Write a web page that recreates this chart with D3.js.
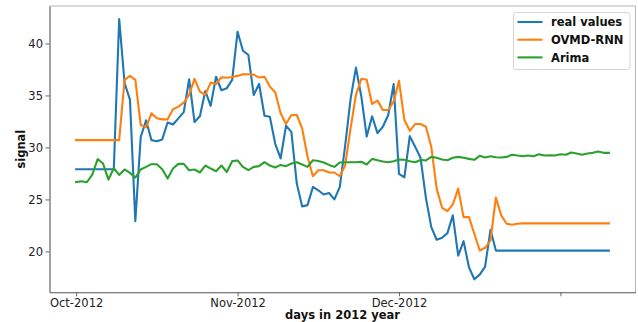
<!DOCTYPE html>
<html>
<head>
<meta charset="utf-8">
<script src="https://cdn.jsdelivr.net/npm/d3@7"></script>
<style>
  html, body { margin: 0; padding: 0; background: #fff; }
  svg { display: block; font-family: "DejaVu Sans", sans-serif; }
</style>
</head>
<body>
<svg id="chart" width="638" height="322"></svg>
<script>
// Daily signal: observed values and two model forecasts
const realValues = [
  27.9, 27.9, 27.9, 27.9, 27.9, 27.9, 27.9, 27.9, 42.35, 36.2,
  34.6, 22.9, 31.0, 32.6, 30.7, 30.6, 30.77, 32.4, 32.2, 32.8,
  33.4, 36.56, 32.44, 33.0, 35.43, 34.0, 36.8, 35.5, 35.7, 36.5,
  41.13, 39.3, 38.9, 35.05, 36.1, 33.05, 32.95, 30.35, 28.94, 32.08,
  31.5, 26.55, 24.33, 24.45, 26.2, 25.88, 25.47, 25.62, 25.0, 26.2,
  30.2, 34.65, 37.68, 34.9, 31.05, 33.0, 31.38, 31.99, 33.12, 36.09,
  27.45, 27.13, 31.09, 30.06, 29.0, 25.15, 22.34, 21.12, 21.31, 21.76,
  23.47, 19.6, 20.99, 18.48, 17.32, 17.77, 18.54, 22.08, 20.08, 20.08,
  20.08, 20.08, 20.08, 20.08, 20.08, 20.08, 20.08, 20.08, 20.08, 20.08,
  20.08, 20.08, 20.08, 20.08, 20.08, 20.08, 20.08, 20.08, 20.08, 20.08
];
const ovmdRnn = [
  30.7, 30.7, 30.7, 30.7, 30.7, 30.7, 30.7, 30.7, 30.7, 36.5,
  36.88, 36.5, 32.15, 31.93, 33.28, 32.8, 32.7, 32.7, 33.67, 33.92,
  34.31, 35.05, 36.6, 35.37, 35.05, 36.24, 36.1, 36.75, 36.7, 36.78,
  36.88, 37.04, 37.04, 37.0, 36.72, 36.8, 35.85, 35.3, 33.28, 32.25,
  33.12, 33.12, 31.83, 29.1, 27.23, 27.81, 27.81, 27.59, 27.59, 27.23,
  28.29, 31.83, 35.05, 36.6, 36.5, 34.18, 34.5, 33.6, 33.6, 34.4,
  36.4, 32.64, 31.6, 32.25, 32.25, 31.99, 30.06, 26.04, 24.2, 23.88,
  24.53, 26.04, 23.3, 23.3, 21.7, 20.09, 20.35, 21.05, 25.17, 23.47,
  22.66, 22.57, 22.66, 22.7, 22.7, 22.7, 22.7, 22.7, 22.7, 22.7,
  22.7, 22.7, 22.7, 22.7, 22.7, 22.7, 22.7, 22.7, 22.7, 22.7
];
const arima = [
  26.68, 26.75, 26.65, 27.39, 28.87, 28.45, 26.91, 28.0, 27.36, 27.88,
  27.55, 27.1, 27.88, 28.13, 28.39, 28.39, 27.91, 27.01, 27.97, 28.42,
  28.42, 27.81, 27.88, 27.59, 28.26, 27.97, 27.71, 28.26, 27.64, 28.68,
  28.75, 28.13, 27.81, 28.13, 28.2, 28.58, 28.26, 28.07, 28.32, 28.2,
  28.45, 28.58, 28.36, 28.13, 28.77, 28.7, 28.55, 28.32, 28.13, 28.55,
  28.58, 28.58, 28.58, 28.62, 28.36, 28.9, 28.77, 28.64, 28.58, 28.68,
  28.84, 28.81, 28.68, 28.58, 28.8, 28.75, 29.09, 29.0, 28.84, 28.77,
  29.0, 29.09, 29.0, 28.9, 28.81, 29.19, 29.03, 29.16, 29.06, 29.03,
  29.09, 29.29, 29.22, 29.16, 29.22, 29.16, 29.35, 29.22, 29.25, 29.22,
  29.35, 29.29, 29.51, 29.42, 29.29, 29.42, 29.48, 29.61, 29.48, 29.48
];

const seriesNames = ["real values", "OVMD-RNN", "Arima"];
const seriesColors = ["#1f77b4", "#ff7f0e", "#2ca02c"];

const xTickValues = [0, 30, 60, 90];
const xTickLabels = ["Oct-2012", "Nov-2012", "Dec-2012", ""];
const yTickValues = [20, 25, 30, 35, 40];

const series = [realValues, ovmdRnn, arima];

const svg = d3.select("#chart");
const plot = { left: 49.5, top: 6, right: 635.5, bottom: 292.3 };

// Axis limits with a 5% pad around the data
const n = realValues.length;
const xPad = (n - 1) * 0.05;
const allVals = series.flat();
const yMin = d3.min(allVals), yMax = d3.max(allVals);
const yPad = (yMax - yMin) * 0.05;

const x = d3.scaleLinear().domain([-xPad, n - 1 + xPad]).range([plot.left, plot.right]);
const y = d3.scaleLinear().domain([yMin - yPad, yMax + yPad]).range([plot.bottom, plot.top]);

const fontSize = 11.5;

// Lines
const line = d3.line().x((d, i) => x(i)).y(d => y(d));
const lines = svg.append("g");
series.forEach((vals, k) => {
  lines.append("path")
    .datum(vals)
    .attr("d", line)
    .attr("fill", "none")
    .attr("stroke", seriesColors[k])
    .attr("stroke-width", 2.1)
    .attr("stroke-linejoin", "round")
    .attr("stroke-linecap", "square");
});

// Frame
svg.append("line").attr("x1", plot.left).attr("x2", plot.right).attr("y1", plot.top).attr("y2", plot.top)
  .attr("stroke", "#b5b5b5").attr("stroke-width", 1);
svg.append("line").attr("x1", plot.right).attr("x2", plot.right).attr("y1", plot.top).attr("y2", plot.bottom)
  .attr("stroke", "#b5b5b5").attr("stroke-width", 1);

// Axes
const xAxis = d3.axisBottom(x)
  .tickValues(xTickValues)
  .tickFormat((d, i) => xTickLabels[i])
  .tickSizeInner(4).tickSizeOuter(0).tickPadding(2);
const gx = svg.append("g").attr("transform", `translate(0,${plot.bottom})`).call(xAxis);

const yAxis = d3.axisLeft(y)
  .tickValues(yTickValues)
  .tickFormat(d3.format("d"))
  .tickSizeInner(4).tickSizeOuter(0).tickPadding(2.5);
const gy = svg.append("g").attr("transform", `translate(${plot.left},0)`).call(yAxis);

[gx, gy].forEach(g => {
  g.select(".domain").attr("stroke", "#555").attr("stroke-width", 1.1);
  g.selectAll(".tick line").attr("stroke", "#555").attr("stroke-width", 0.9);
  g.selectAll(".tick text")
    .attr("fill", "#222")
    .style("font-family", "DejaVu Sans, sans-serif")
    .style("font-size", fontSize + "px");
});
gx.selectAll(".tick text").attr("dy", "0.75em");

// Axis titles
svg.append("text")
  .attr("x", (plot.left + plot.right) / 2)
  .attr("y", 318.5)
  .attr("text-anchor", "middle")
  .attr("font-weight", "bold")
  .attr("font-size", fontSize)
  .attr("fill", "#111")
  .text("days in 2012 year");

svg.append("text")
  .attr("transform", `translate(25,${(plot.top + plot.bottom) / 2}) rotate(-90)`)
  .attr("text-anchor", "middle")
  .attr("font-weight", "bold")
  .attr("font-size", fontSize)
  .attr("fill", "#111")
  .text("signal");

// Legend
const legend = svg.append("g");
legend.append("rect")
  .attr("x", 513.5).attr("y", 12.5)
  .attr("width", 116.5).attr("height", 57)
  .attr("rx", 2.5)
  .attr("fill", "#fff").attr("fill-opacity", 0.85)
  .attr("stroke", "#d6d6d6").attr("stroke-width", 1);
seriesNames.forEach((name, k) => {
  const cy = 22 + k * 17.7;
  legend.append("line")
    .attr("x1", 517.5).attr("x2", 542.5)
    .attr("y1", cy).attr("y2", cy)
    .attr("stroke", seriesColors[k]).attr("stroke-width", 2.1);
  legend.append("text")
    .attr("x", 551).attr("y", cy)
    .attr("dy", "0.36em")
    .attr("font-weight", "bold")
    .attr("font-size", fontSize)
    .attr("fill", "#111")
    .text(name);
});
</script>
</body>
</html>
